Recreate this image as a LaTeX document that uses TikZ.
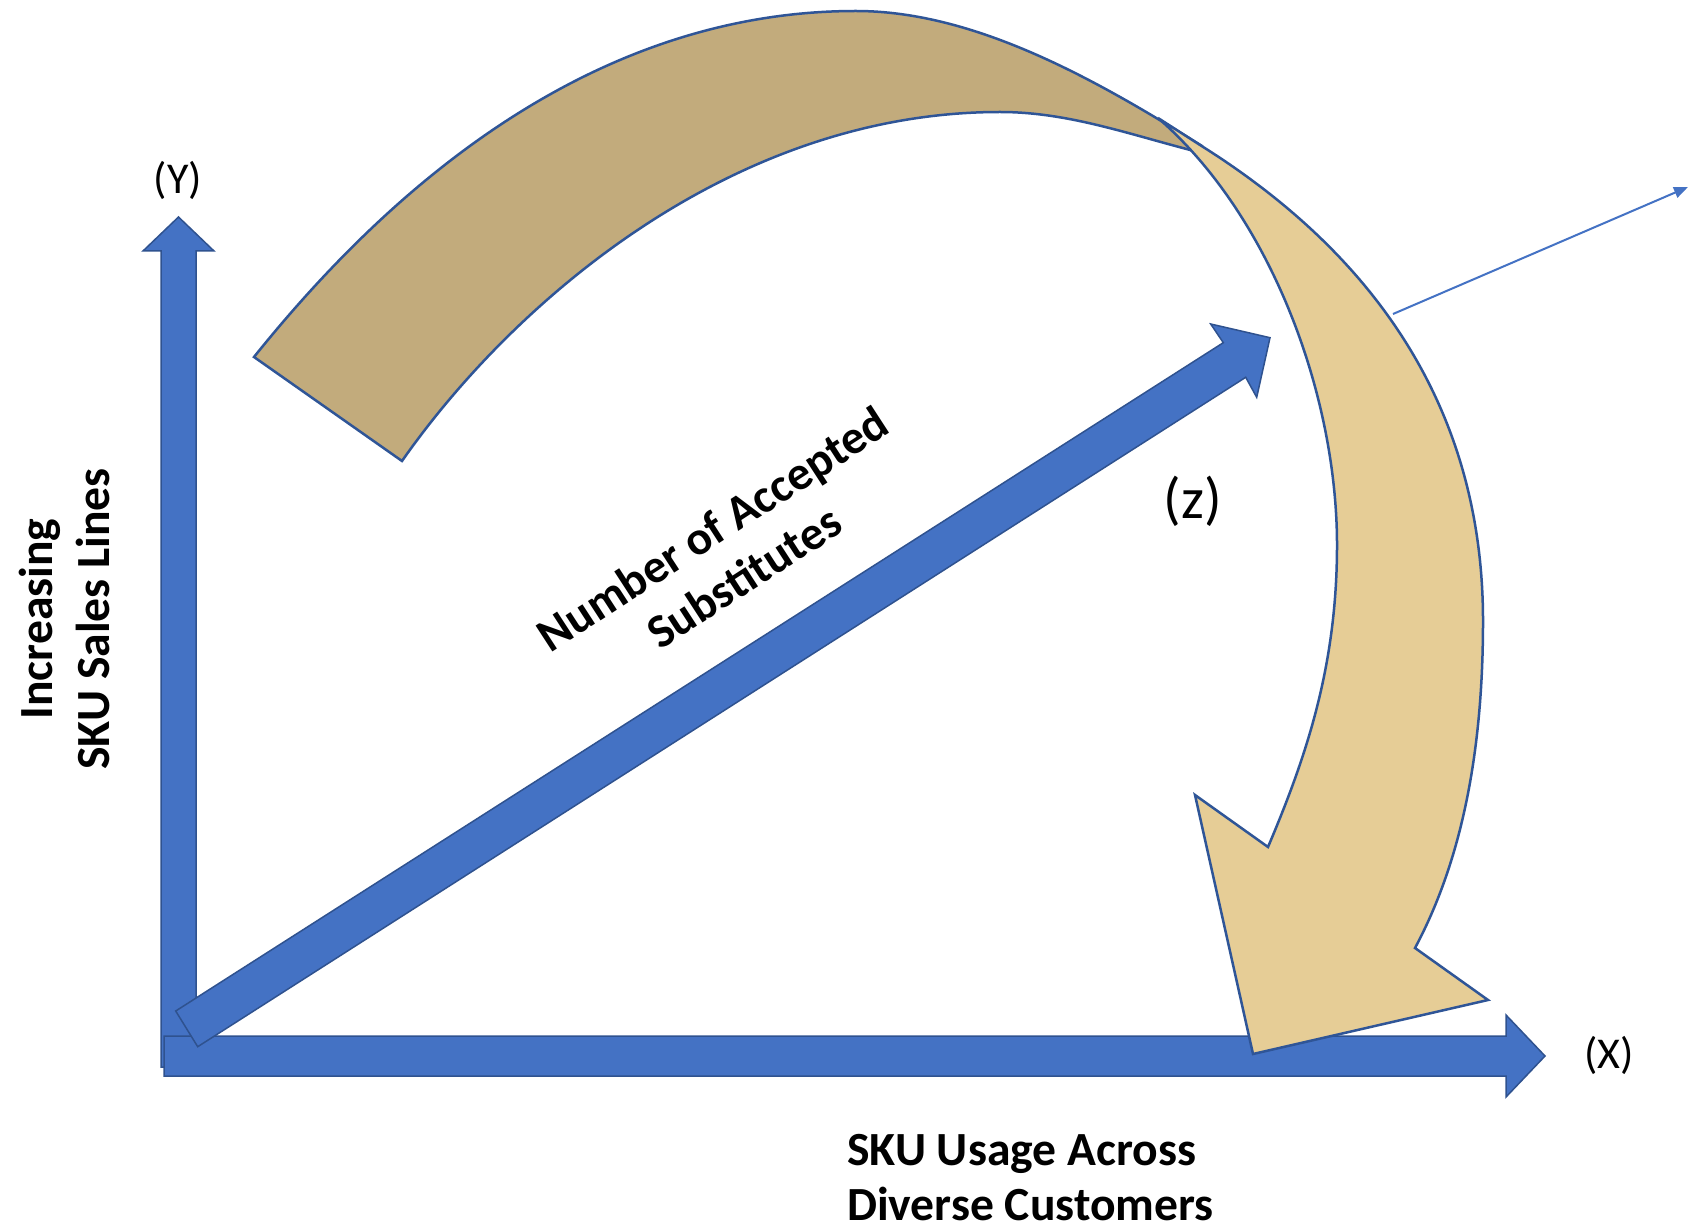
\documentclass[tikz,border=0pt]{standalone}
\usepackage{fontspec}
\setmainfont{Carlito}
\usetikzlibrary{arrows.meta}
\definecolor{axisblue}{HTML}{4472C4}
\definecolor{axisedge}{HTML}{2F528F}
\definecolor{tandark}{HTML}{C2AB7C}
\definecolor{tanlight}{HTML}{E6CD96}
\definecolor{bandedge}{HTML}{2F5597}
\begin{document}
\begin{tikzpicture}[x=1pt,y=-1pt,
  axisarrow/.style={fill=axisblue,draw=axisedge,line width=1.5pt,line join=miter},
  band/.style={draw=bandedge,line width=2.5pt,line join=miter},
  lbl/.style={inner sep=0pt,font=\fontsize{47.6}{57}\selectfont\bfseries},
  paren/.style={inner sep=0pt,font=\fontsize{44}{50}\selectfont}]
\useasboundingbox[fill=white] (0,0) rectangle (1688,1230);

% Y axis
\path[axisarrow] (161,1067) -- (161,251) -- (143,251) -- (178.5,217) -- (214,251) -- (196,251) -- (196,1067) -- cycle;
% X axis
\path[axisarrow] (164,1036) -- (1506,1036) -- (1506,1015) -- (1545,1056) -- (1506,1097) -- (1506,1076) -- (164,1076) -- cycle;
% Z axis
\path[axisarrow] (197.7,1046.7) -- (175.7,1011) -- (1223.3,342.7) -- (1210.7,324) -- (1270,337.7) -- (1256.7,397.3) -- (1245.7,377.3) -- cycle;

% curved band, left part
\path[band,fill=tandark] (254,357) .. controls (372,210) and (576,11) .. (856,11)
  .. controls (976,11) and (1098,81) .. (1202,146)
  -- (1202,153) .. controls (1132,135.5) and (1070,112) .. (1000,112)
  .. controls (730,112) and (511,305) .. (402,461) -- cycle;
% curved band, right part with head
\path[band,fill=tanlight] (1158,118) -- (1200,145)
  .. controls (1387,262) and (1483,421) .. (1483,621)
  .. controls (1483,751) and (1462,860) .. (1415,948)
  -- (1488,1000) -- (1253,1054) -- (1195,795) -- (1268,847)
  .. controls (1307,755) and (1337,665) .. (1337,545)
  .. controls (1337,395) and (1271,216) .. (1158,118) -- cycle;

% thin pointer
\coordinate (lineStart) at (1393,314);
\coordinate (lineEnd) at (1688,187);
\draw[axisblue,line width=2pt,-{Triangle[length=14pt,width=11pt]}] (lineStart) -- (lineEnd);

% labels
\node[paren] (ylab) at (178,180) {(Y)};
\node[paren] (xlab) at (1609,1055) {(X)};
\node[inner sep=0pt,font=\fontsize{58}{62}\selectfont] (zlab) at (1193,501) {(z)};
\node[lbl,anchor=base west] (xt1) at (847,1165) {SKU Usage Across};
\node[lbl,anchor=base west] (xt2) at (847,1220) {Diverse Customers};
\node[lbl,rotate=90,align=center] (ytitle) at (64,619) {Increasing\\SKU Sales Lines};
\node[lbl,rotate=33,align=center] (ztitle) at (728,553) {Number of Accepted\\Substitutes};
\end{tikzpicture}
\end{document}
